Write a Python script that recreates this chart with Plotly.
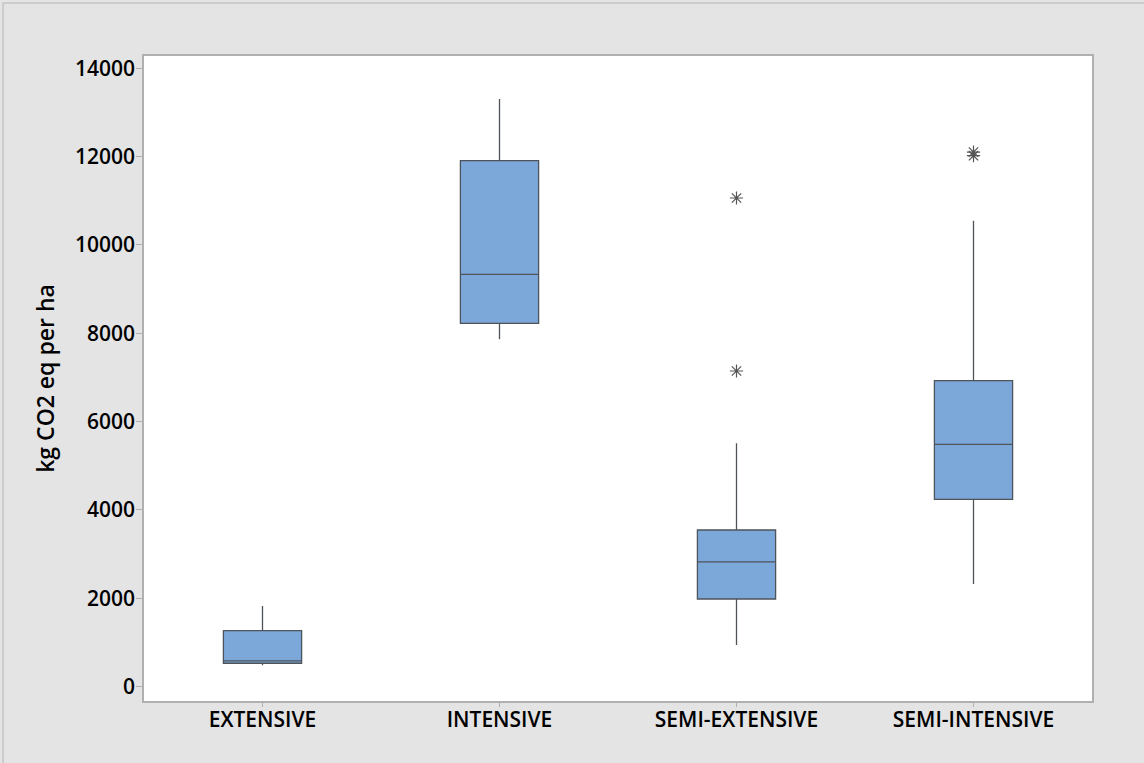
import plotly.graph_objects as go

# Emission summary per farming system
categories = ["EXTENSIVE", "INTENSIVE", "SEMI-EXTENSIVE", "SEMI-INTENSIVE"]
lower_whisker = [484, 7863, 944, 2325]
q1_values = [530, 8225, 1985, 4242]
medians = [582, 9334, 2823, 5487]
q3_values = [1268, 11906, 3547, 6926]
upper_whisker = [1827, 13302, 5509, 10548]

# Outlying observations
outlier_groups = ["SEMI-EXTENSIVE", "SEMI-EXTENSIVE", "SEMI-INTENSIVE", "SEMI-INTENSIVE"]
outlier_values = [11062, 7146, 12100, 12020]

y_ticks = [0, 2000, 4000, 6000, 8000, 10000, 12000, 14000]

fig = go.Figure()

fig.add_trace(go.Box(
    x=categories,
    q1=q1_values,
    median=medians,
    q3=q3_values,
    lowerfence=lower_whisker,
    upperfence=upper_whisker,
    boxpoints=False,
    width=0.33,
    fillcolor="#7ba7d9",
    line=dict(color="#4f545a", width=1.3),
    whiskerwidth=0,
    showlegend=False,
    hoverinfo="skip",
))

fig.add_trace(go.Scatter(
    x=outlier_groups,
    y=outlier_values,
    mode="markers",
    marker=dict(symbol="asterisk-open", size=11, color="#555555",
                line=dict(color="#555555", width=1.2)),
    showlegend=False,
    hoverinfo="skip",
))

font_family = "Open Sans, Noto Sans, DejaVu Sans, sans-serif"

fig.update_layout(
    width=1144,
    height=763,
    paper_bgcolor="#e4e4e4",
    plot_bgcolor="#ffffff",
    margin=dict(l=144, r=52, t=56, b=62),
    font=dict(family=font_family, color="#000000"),
    xaxis=dict(
        type="category",
        categoryorder="array",
        categoryarray=categories,
        range=[-0.5, 3.5],
        showgrid=False,
        zeroline=False,
        showline=True,
        linecolor="#b0b0b0",
        linewidth=1.5,
        mirror=True,
        ticks="outside",
        ticklen=4,
        tickcolor="#b0b0b0",
        ticklabelstandoff=-5,
        tickfont=dict(size=21, family=font_family, weight=600),
    ),
    yaxis=dict(
        range=[-324, 14276],
        tickvals=y_ticks,
        ticktext=[str(v) for v in y_ticks],
        showgrid=False,
        zeroline=False,
        showline=True,
        linecolor="#b0b0b0",
        linewidth=1.5,
        mirror=True,
        ticks="outside",
        ticklen=6,
        tickcolor="#b0b0b0",
        ticklabelstandoff=-3,
        tickfont=dict(size=21, family=font_family, weight=600),
        title=dict(text="kg CO2 eq per ha", standoff=14,
                   font=dict(size=23, family=font_family, weight=600)),
    ),
    shapes=[dict(
        type="rect", xref="paper", yref="paper",
        x0=-0.1487, x1=1.2, y0=-0.2, y1=1.0822,
        line=dict(color="#c4c4c4", width=1.5),
        fillcolor="rgba(0,0,0,0)",
        layer="below",
    )],
)

fig.write_html("out.html")
